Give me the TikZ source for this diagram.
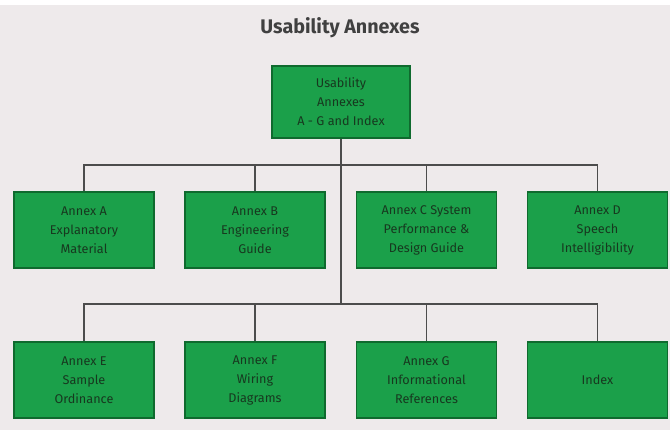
\documentclass[tikz,border=0pt]{standalone}
\usepackage{fontspec}
\setmainfont{Fira Sans}
\usetikzlibrary{positioning}
\definecolor{annexgreen}{HTML}{1BA04A}
\definecolor{annexedge}{HTML}{0F6A2E}
\definecolor{annextext}{HTML}{17381F}
\definecolor{panelgray}{HTML}{EEEAEB}
\tikzset{
  annex/.style={draw=annexedge, line width=1pt, fill=annexgreen,
    minimum width=3.5cm, minimum height=1.9cm, align=center,
    text=annextext, font=\fontsize{9}{13.5}\selectfont},
  link/.style={draw=black!70, line width=1.1pt}
}
\begin{document}
\begin{tikzpicture}[x=0.025cm,y=-0.025cm]
           \useasboundingbox (0,0) rectangle (670,430);
           \fill[panelgray] (0,5) rectangle (670,430);
           \node[font=\fontsize{14}{16}\selectfont\bfseries, text=black!75] (title) at (340,28) {Usability Annexes};

           \node[annex, minimum width=3.45cm, minimum height=1.8cm] (top) at (341,102) {Usability\\Annexes\\A - G and Index};

           \node[annex] (annexA) at (84,230) {Annex A\\Explanatory\\Material};
           \node[annex] (annexB) at (255,230) {Annex B\\Engineering\\Guide};
           \node[annex] (annexC) at (426.5,230) {Annex C System\\Performance \&\\Design Guide};
           \node[annex] (annexD) at (597.5,230) {Annex D\\Speech\\Intelligibility};

           \node[annex] (annexE) at (84,380) {Annex E\\Sample\\Ordinance};
           \node[annex] (annexF) at (255,380) {Annex F\\Wiring\\Diagrams};
           \node[annex] (annexG) at (426.5,380) {Annex G\\Informational\\References};
           \node[annex] (index) at (597.5,380) {Index};

           \coordinate (bus1) at (341,165);
           \coordinate (bus2) at (341,304);

           \draw[link] (top.south) -- (bus2);
           \draw[link] (annexA.north) -- (annexA.north |- bus1) -- (annexD.north |- bus1) -- (annexD.north);
           \draw[link] (annexB.north) -- (annexB.north |- bus1);
           \draw[link] (annexC.north) -- (annexC.north |- bus1);
           \draw[link] (annexE.north) -- (annexE.north |- bus2) -- (index.north |- bus2) -- (index.north);
           \draw[link] (annexF.north) -- (annexF.north |- bus2);
           \draw[link] (annexG.north) -- (annexG.north |- bus2);
       \end{tikzpicture}
\end{document}
